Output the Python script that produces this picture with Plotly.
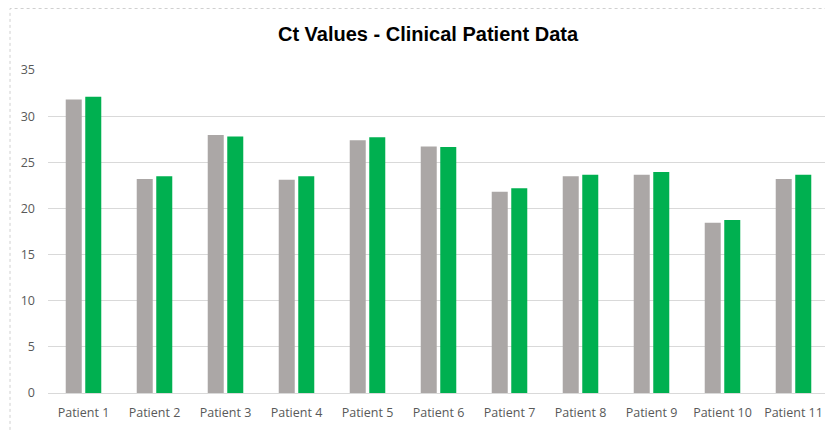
import plotly.graph_objects as go

categories = ["Patient 1", "Patient 2", "Patient 3", "Patient 4", "Patient 5", "Patient 6",
              "Patient 7", "Patient 8", "Patient 9", "Patient 10", "Patient 11"]
series_a = [31.8, 23.2, 27.95, 23.1, 27.4, 26.7, 21.8, 23.5, 23.65, 18.45, 23.2]
series_b = [32.1, 23.5, 27.8, 23.5, 27.7, 26.65, 22.2, 23.65, 23.95, 18.75, 23.65]
y_ticks = [0, 5, 10, 15, 20, 25, 30, 35]

fig = go.Figure()
fig.add_trace(go.Bar(x=categories, y=series_a, marker=dict(color="#ABA7A6", line=dict(width=0)), name="Series 1"))
fig.add_trace(go.Bar(x=categories, y=series_b, marker=dict(color="#00B050", line=dict(width=0)), name="Series 2"))

# page has an 8px body margin, so the figure is shifted by 8px
W, H = 825, 422
ml, mr, mt, mb = 40, 4, 62, 37
pw, ph = W - ml - mr, H - mt - mb

fig.update_layout(
    width=W, height=H,
    margin=dict(l=ml, r=mr, t=mt, b=mb, autoexpand=False),
    paper_bgcolor="white", plot_bgcolor="white",
    barmode="group", bargap=0.45, bargroupgap=0.18,
    showlegend=False,
    title=dict(text="<b>Ct Values - Clinical Patient Data</b>", x=420 / W, xanchor="center",
               y=1 - 26 / H, yanchor="middle",
               font=dict(family="Liberation Sans Narrow, Liberation Sans, sans-serif", size=20, color="#000000")),
    font=dict(family="Open Sans, sans-serif", size=12, color="#595959"),
    xaxis=dict(showgrid=False, showline=True, linecolor="#D9D9D9", linewidth=1, ticks="",
               ticklabelstandoff=8,
               tickfont=dict(size=12.5, color="#595959"), zeroline=False, automargin=False),
    yaxis=dict(range=[0, 35], tickvals=y_ticks, showgrid=True, gridcolor="#D9D9D9", gridwidth=1,
               showline=False, zeroline=False, ticks="", ticklabelstandoff=12, automargin=False,
               tickfont=dict(size=12.5, color="#595959")),
    shapes=[dict(type="rect", xref="paper", yref="paper",
                 x0=(2 - ml) / pw, x1=1.1, y0=-0.3, y1=(H - mb - 0.5) / ph,
                 line=dict(color="#D0D0D0", width=1, dash="dot"), layer="below")],
)

fig.write_html("out.html")
